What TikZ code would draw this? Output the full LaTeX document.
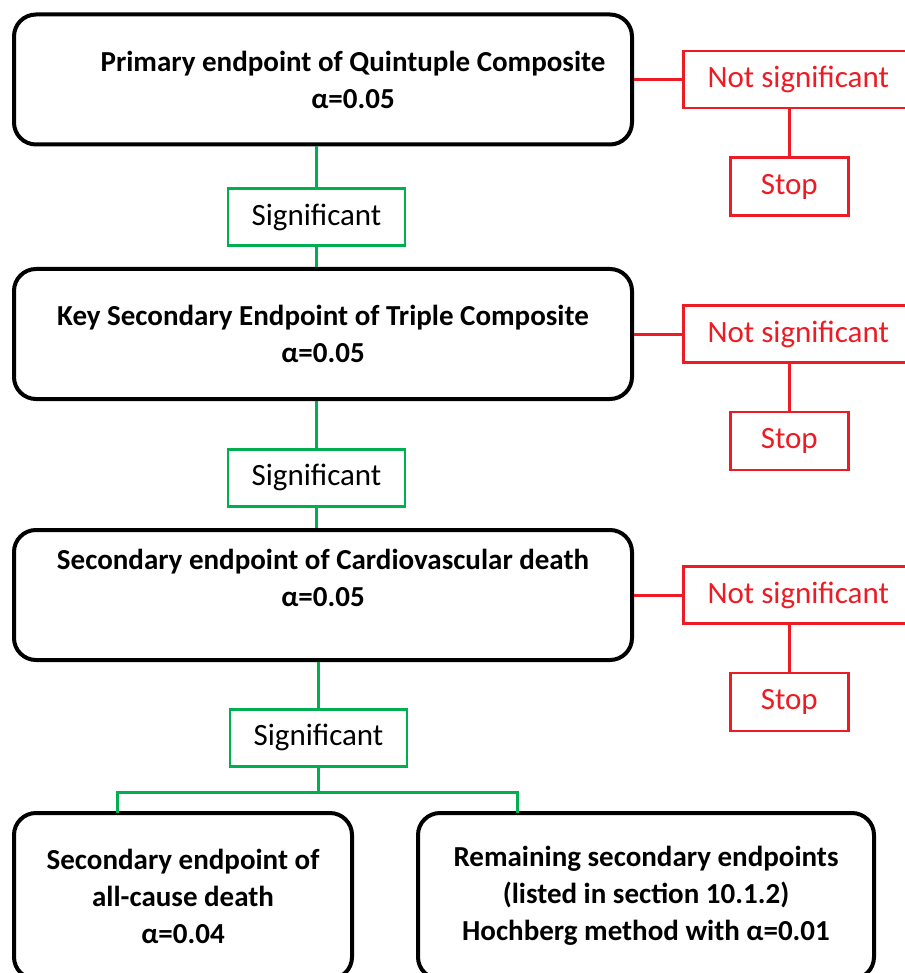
\documentclass[tikz,border=0pt]{standalone}
\usepackage{fontspec}
\setmainfont{Carlito}
\usetikzlibrary{positioning}
\definecolor{nsred}{RGB}{237,28,36}
\definecolor{siggreen}{RGB}{0,176,80}

\begin{document}
\begin{tikzpicture}[x=1pt,y=1pt,
    test node/.style={draw=black,line width=4pt,rounded corners=22pt,align=center,minimum width=618pt,minimum height=130pt,font=\fontsize{29}{37}\selectfont\bfseries},
    end node/.style={draw=black,line width=4pt,rounded corners=22pt,align=center,minimum height=166pt,font=\fontsize{29}{37}\selectfont\bfseries},
    sig node/.style={draw=siggreen,line width=2.5pt,minimum width=177pt,minimum height=57pt,font=\fontsize{31}{37}\selectfont},
    ns node/.style={draw=nsred,text=nsred,line width=2.5pt,minimum width=230pt,minimum height=57pt,font=\fontsize{31}{37}\selectfont},
    stop node/.style={draw=nsred,text=nsred,line width=2.5pt,minimum width=118pt,minimum height=58pt,font=\fontsize{31}{37}\selectfont},
    sig line/.style={draw=siggreen,line width=3pt},
    ns line/.style={draw=nsred,line width=3pt}]
    \useasboundingbox (0,0) rectangle (904,-973);

    % main tests
    \node[test node] (primary) at (323,-79.5) {\hspace*{60pt}Primary endpoint of Quintuple Composite\\\hspace*{60pt}α=0.05};
    \node[test node] (key) at (323,-334) {Key Secondary Endpoint of Triple Composite\\α=0.05};
    \node[test node,text depth=35pt] (cvdeath) at (323,-595) {Secondary endpoint of Cardiovascular death\\α=0.05};
    \node[end node,minimum width=338pt] (allcause) at (183,-896) {Secondary endpoint of\\all-cause death\\α=0.04};
    \node[end node,minimum width=456pt] (remaining) at (646,-896) {Remaining secondary endpoints\\(listed in section 10.1.2)\\Hochberg method with α=0.01};

    % significant
    \node[sig node,xshift=-6.5pt] (sig1) [below=41pt of primary] {Significant};
    \node[sig node,xshift=-6.5pt] (sig2) [below=47pt of key] {Significant};
    \node[sig node,xshift=-4.5pt] (sig3) [below=46pt of cvdeath] {Significant};

    % not significant
    \node[ns node] (ns1) [right=48pt of primary] {Not significant};
    \node[ns node] (ns2) [right=48pt of key] {Not significant};
    \node[ns node] (ns3) [right=48pt of cvdeath] {Not significant};
    \node[stop node,xshift=-9pt] (stop1) [below=47pt of ns1] {Stop};
    \node[stop node,xshift=-9pt] (stop2) [below=47pt of ns2] {Stop};
    \node[stop node,xshift=-9pt] (stop3) [below=47pt of ns3] {Stop};

    \coordinate (split) at (318.5,-792);
    \coordinate (toleft) at (117,-813);
    \coordinate (toright) at (517,-813);

    \path[sig line]
        (primary.south -| sig1) edge (sig1)
        (sig1) edge (key.north -| sig1)
        (key.south -| sig2) edge (sig2)
        (sig2) edge (cvdeath.north -| sig2)
        (cvdeath.south -| sig3) edge (sig3)
        (sig3) edge (split)
        ;
    \draw[sig line] (toleft) |- (split) -| (toright);

    \path[ns line]
        (primary) edge (ns1)
        (ns1.south -| stop1) edge (stop1)
        (key) edge (ns2)
        (ns2.south -| stop2) edge (stop2)
        (cvdeath) edge (ns3)
        (ns3.south -| stop3) edge (stop3)
        ;
\end{tikzpicture}
\end{document}
